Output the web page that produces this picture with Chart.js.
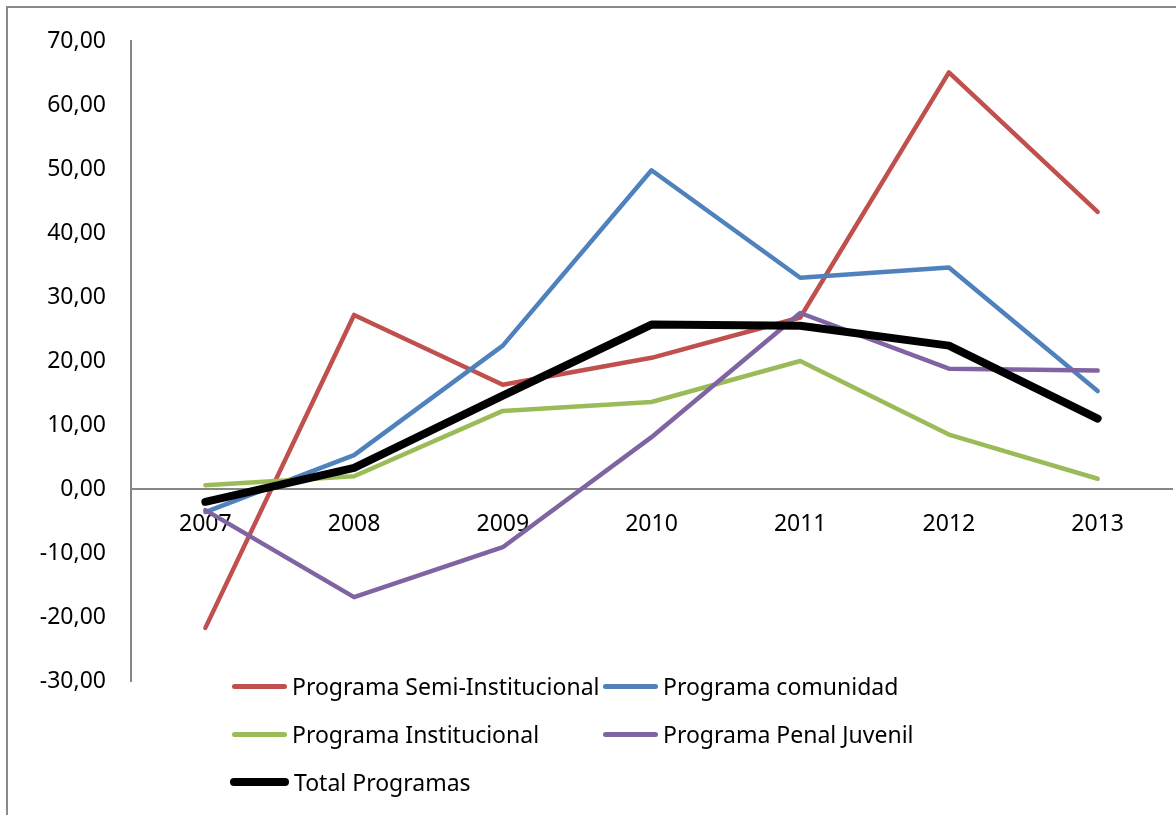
<!DOCTYPE html>
<html>
<head>
<meta charset="utf-8">
<script src="https://cdn.jsdelivr.net/npm/chart.js@4/dist/chart.umd.min.js"></script>
<style>
  html, body { margin: 0; padding: 0; background: #fff; overflow: hidden; }
  #wrap { position: relative; width: 1176px; height: 815px; overflow: hidden; font-family: "Noto Sans", sans-serif; }
  #frame { position: absolute; left: 6px; top: 6px; width: 1400px; height: 1000px; border: 2px solid #898989; box-sizing: border-box; }
  #c { position: absolute; left: 0; top: 0; }
  .leg { position: absolute; height: 30px; display: flex; align-items: center; font-size: 23px; color: #000; white-space: nowrap; }
  .leg .sw { display: inline-block; width: 55px; border-radius: 4px; margin-right: 5px; }
</style>
</head>
<body>
<div id="wrap">
  <div id="frame"></div>
  <canvas id="c" width="1176" height="815"></canvas>
</div>
<script>
const categories = ["2007", "2008", "2009", "2010", "2011", "2012", "2013"];
const seriesNames = ["Programa Semi-Institucional", "Programa comunidad", "Programa Institucional", "Programa Penal Juvenil", "Total Programas"];
const semiInstitucional = [-21.7, 27.2, 16.3, 20.5, 26.8, 65.1, 43.3];
const comunidad = [-3.6, 5.3, 22.4, 49.8, 33.0, 34.6, 15.3];
const institucional = [0.6, 2.0, 12.2, 13.6, 20.0, 8.5, 1.6];
const penalJuvenil = [-3.3, -16.9, -9.1, 8.1, 27.5, 18.8, 18.5];
const totalProgramas = [-2.0, 3.3, 14.6, 25.7, 25.5, 22.4, 11.0];
const yTickMin = -30, yTickMax = 70, yTickStep = 10;

const colors = ["#C0504D", "#4F81BD", "#9BBB59", "#8064A2", "#000000"];
const widths = [4.5, 4.5, 4.5, 4.5, 8];
const seriesValues = [semiInstitucional, comunidad, institucional, penalJuvenil, totalProgramas];

const datasets = seriesValues.map((vals, i) => ({
  label: seriesNames[i],
  data: vals,
  borderColor: colors[i],
  backgroundColor: colors[i],
  borderWidth: widths[i],
  pointRadius: 0,
  pointHoverRadius: 0,
  tension: 0,
  fill: false,
  borderCapStyle: 'round',
  borderJoinStyle: 'round',
  order: seriesValues.length - i
}));

const FONT = { family: "'Noto Sans', sans-serif", size: 23 };

new Chart(document.getElementById('c'), {
  type: 'line',
  data: { labels: categories, datasets },
  options: {
    responsive: false,
    animation: false,
    layout: { padding: { left: 0, top: 41, right: 4, bottom: 134 } },
    plugins: { legend: { display: false }, tooltip: { enabled: false } },
    scales: {
      x: {
        position: { y: 0 },
        offset: true,
        grid: { display: true, color: 'transparent', drawTicks: false, offset: true },
        border: { display: true, color: '#868686', width: 2 },
        ticks: { color: '#000', font: FONT, padding: 22, maxRotation: 0, autoSkip: false }
      },
      y: {
        min: yTickMin, max: yTickMax,
        grid: { display: true, color: 'transparent', drawTicks: false },
        border: { display: true, color: '#868686', width: 2 },
        ticks: {
          stepSize: yTickStep, color: '#000', font: FONT, padding: 25,
          callback: v => v.toFixed(2).replace('.', ',')
        },
        afterFit: s => { s.width = 131; }
      }
    }
  }
});

// legend (two columns, Excel-like)
const legendPos = [[232, 686], [603, 686], [232, 734], [603, 734], [230, 782]];
const wrap = document.getElementById('wrap');
seriesNames.forEach((name, i) => {
  const d = document.createElement('div');
  d.className = 'leg';
  d.style.left = legendPos[i][0] + 'px';
  d.style.top = (legendPos[i][1] - 15) + 'px';
  const sw = document.createElement('span');
  sw.className = 'sw';
  sw.style.background = colors[i];
  sw.style.height = (i === 4 ? 8 : 5) + 'px';
  if (i === 4) sw.style.width = '59px';
  d.appendChild(sw);
  const t = document.createElement('span');
  t.textContent = name;
  d.appendChild(t);
  wrap.appendChild(d);
});
</script>
</body>
</html>
